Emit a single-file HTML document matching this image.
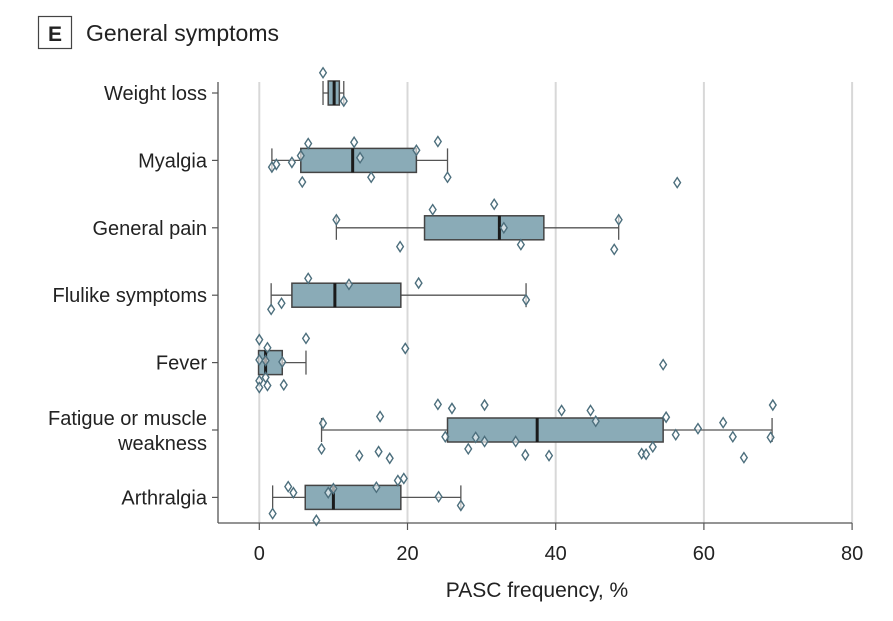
<!DOCTYPE html>
<html><head><meta charset="utf-8"><style>
body{margin:0;background:#fff;}
svg text{font-family:"Liberation Sans",sans-serif;fill:#222;}
</style></head><body>
<svg id="chart" width="893" height="616" viewBox="0 0 893 616" xmlns="http://www.w3.org/2000/svg">
<rect x="38.5" y="16.5" width="33" height="32" fill="#fff" stroke="#444" stroke-width="1.2"/>
<text x="55" y="41" text-anchor="middle" font-size="21" font-weight="bold">E</text>
<text x="86" y="41" font-size="23">General symptoms</text>
<g id="grid"></g><g id="axes"></g><g id="marks"></g>
<text x="537" y="597" text-anchor="middle" font-size="21">PASC frequency, %</text>
</svg>
<script>
const categories=["Weight loss","Myalgia","General pain","Flulike symptoms","Fever","Fatigue or muscle|weakness","Arthralgia"];
const q1=[9.3,5.6,22.3,4.4,-0.1,25.4,6.2];
const medians=[10.1,12.6,32.4,10.2,0.85,37.5,10.0];
const q3=[10.8,21.2,38.4,19.1,3.1,54.5,19.1];
const whiskLo=[8.6,1.7,10.4,1.6,0,8.4,1.8];
const whiskHi=[11.4,25.4,48.5,36.0,6.3,69.2,27.2];
const xTicks=[0,20,40,60,80];
// individual study points: category index, value, vertical jitter (fraction of row band)
const ptCat=[0,0, 1,1,1,1,1,1,1,1,1,1,1,1,1, 2,2,2,2,2,2,2,2, 3,3,3,3,3,3,
 4,4,4,4,4,4,4,4,4,4,4,4,4,
 5,5,5,5,5,5,5,5,5,5,5,5,5,5,5,5,5,5,5,5,5,5,5,5,5,5,5,5,5,5,
 6,6,6,6,6,6,6,6,6,6,6];
const ptVal=[8.6,11.4, 6.6,12.8,24.1,21.2,5.6,13.6,4.4,2.3,1.7,5.8,15.1,25.4,56.4, 10.4,23.4,31.7,33.0,35.3,19.0,48.5,47.9, 6.6,12.1,21.5,36.0,3.0,1.6,
 0,6.3,1.1,19.7,0,0.85,3.1,54.5,0.85,0,0,1.1,3.3,
 24.1,26.0,30.4,16.3,8.6,40.8,44.7,45.4,54.9,69.3,62.6,59.2,56.2,63.9,69.0,25.1,29.2,30.4,34.6,28.2,8.4,13.5,16.1,17.6,35.9,39.1,53.1,51.6,52.2,65.4,
 3.9,4.6,9.3,10.0,15.8,18.7,19.5,24.2,27.2,1.8,7.7];
const ptJit=[-0.30,0.12, -0.25,-0.27,-0.28,-0.15,-0.07,-0.04,0.03,0.06,0.10,0.32,0.25,0.25,0.33, -0.12,-0.27,-0.35,0,0.25,0.28,-0.12,0.32, -0.25,-0.16,-0.18,0.07,0.12,0.21,
 -0.34,-0.36,-0.22,-0.21,-0.04,-0.03,-0.01,0.03,0.22,0.27,0.37,0.34,0.33,
 -0.38,-0.32,-0.37,-0.20,-0.10,-0.29,-0.29,-0.13,-0.19,-0.37,-0.11,-0.02,0.07,0.10,0.11,0.10,0.11,0.17,0.17,0.28,0.28,0.38,0.32,0.42,0.37,0.38,0.25,0.35,0.36,0.41,
 -0.16,-0.07,-0.07,-0.13,-0.15,-0.25,-0.28,-0.01,0.12,0.24,0.34];
const NS="http://www.w3.org/2000/svg";
const X0=259.3,PX=7.41,Y0=93,STEP=67.4,AX=218,AB=523,AT=82;
const xs=v=>X0+v*PX, ys=i=>Y0+i*STEP;
function mk(tag,attrs,parent){const e=document.createElementNS(NS,tag);for(const k in attrs)e.setAttribute(k,attrs[k]);parent.appendChild(e);return e;}
const grid=document.getElementById('grid'),axes=document.getElementById('axes'),marks=document.getElementById('marks');
xTicks.forEach(t=>{
 const g=mk('line',{x1:xs(t),x2:xs(t),y1:AT,y2:AB,stroke:'#d8d8d8','stroke-width':2},grid);
 
 
 const tk=mk('line',{x1:xs(t),x2:xs(t),y1:AB,y2:AB+7,stroke:'#555','stroke-width':1.2},axes);
 
 
 const tl=mk('text',{x:xs(t),y:560,'text-anchor':'middle','font-size':20},axes);
 tl.textContent=t;
 
 
});
const ya=mk('line',{x1:AX,x2:AX,y1:AT,y2:AB,stroke:'#555','stroke-width':1.3},axes);


const xa=mk('line',{x1:AX,x2:xs(80),y1:AB,y2:AB,stroke:'#555','stroke-width':1.3},axes);


categories.forEach((c,i)=>{
 const y=ys(i);
 const tk=mk('line',{x1:AX-6,x2:AX,y1:y,y2:y,stroke:'#555','stroke-width':1.2},axes);
 
 
 const lines=c.split('|');
 const t=mk('text',{x:207,y:y+7-(lines.length-1)*12,'text-anchor':'end','font-size':20},axes);
 lines.forEach((l,k)=>{const s=mk('tspan',{x:207,dy:k?25:0},t);s.textContent=l;});
 
 
 const g=mk('g',{},marks);
 
 
 const h=12;
 mk('line',{x1:xs(whiskLo[i]),x2:xs(q1[i]),y1:y,y2:y,stroke:'#555','stroke-width':1.3},g);
 mk('line',{x1:xs(q3[i]),x2:xs(whiskHi[i]),y1:y,y2:y,stroke:'#555','stroke-width':1.3},g);
 mk('line',{x1:xs(whiskLo[i]),x2:xs(whiskLo[i]),y1:y-h,y2:y+h,stroke:'#555','stroke-width':1.3},g);
 mk('line',{x1:xs(whiskHi[i]),x2:xs(whiskHi[i]),y1:y-h,y2:y+h,stroke:'#555','stroke-width':1.3},g);
 mk('rect',{x:xs(q1[i]),y:y-12,width:xs(q3[i])-xs(q1[i]),height:24,fill:'#8aabb7',stroke:'#444','stroke-width':1.5},g);
 mk('line',{x1:xs(medians[i]),x2:xs(medians[i]),y1:y-12,y2:y+12,stroke:'#1a1a1a','stroke-width':3},g);
});
ptVal.forEach((v,j)=>{
 const x=xs(v),y=ys(ptCat[j])+ptJit[j]*STEP;
 const p=mk('path',{d:`M${x},${y-5} L${x+3.3},${y} L${x},${y+5} L${x-3.3},${y} Z`,fill:'#fff','fill-opacity':0.6,stroke:'#4d6f7d','stroke-width':1.4},marks);
 
 
});
</script>
</body></html>
